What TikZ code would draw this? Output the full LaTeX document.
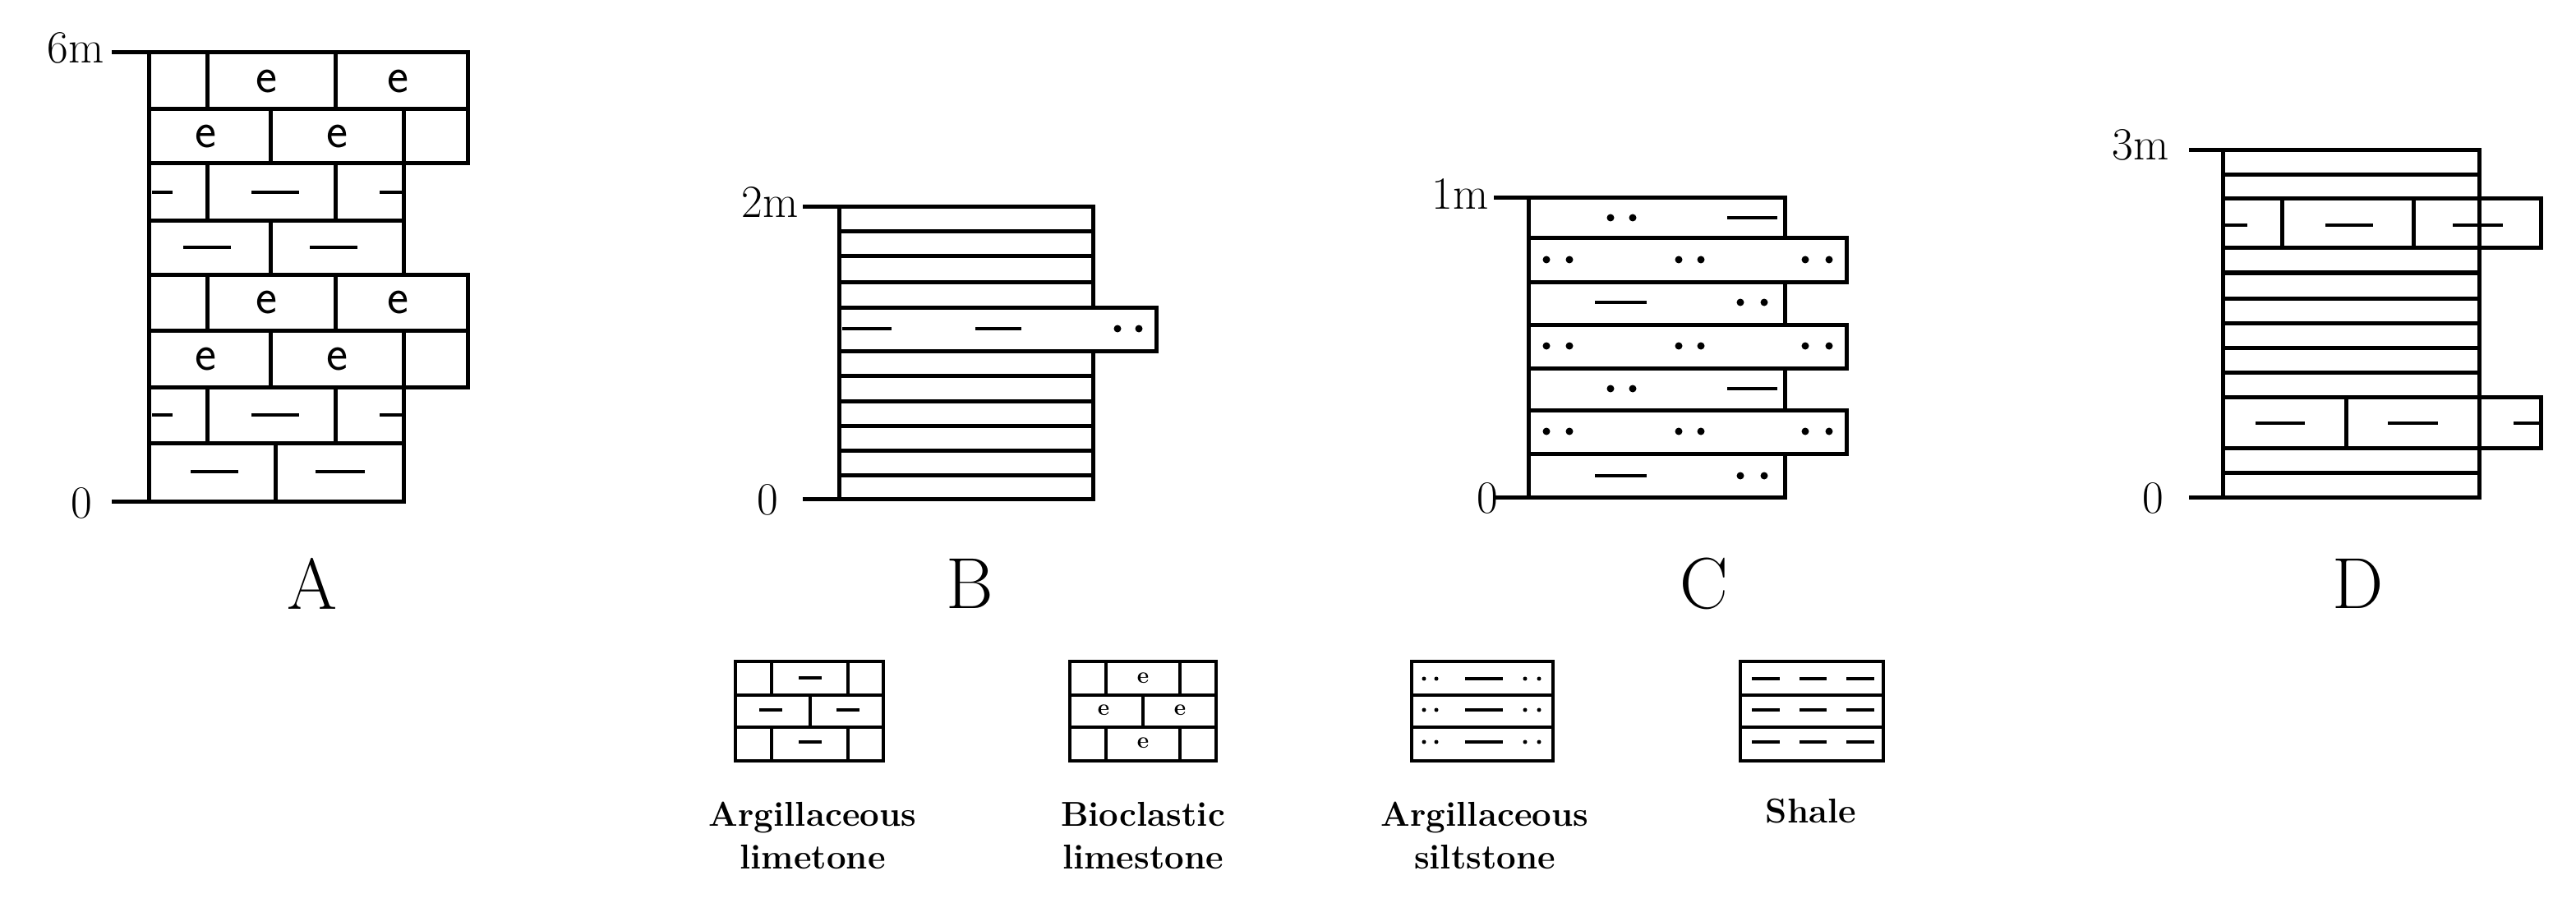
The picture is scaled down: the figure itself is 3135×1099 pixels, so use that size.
\documentclass[tikz,border=0pt]{standalone}
\begin{document}
\begin{tikzpicture}[x=1pt,y=-1pt,
  ln/.style={line width=5pt,line cap=rect},
  dsh/.style={line width=4.5pt},
  lg/.style={line width=4.5pt},
  lbl/.style={font=\fontsize{56}{60}\selectfont,inner sep=0pt},
  colcap/.style={font=\fontsize{88}{90}\selectfont,inner sep=0pt},
  ee/.style={font=\fontsize{62}{62}\selectfont\sffamily,inner sep=0pt},
  leg/.style={font=\fontsize{42}{52}\selectfont\bfseries,align=center,inner sep=0pt}]
\useasboundingbox (0,0) rectangle (3135,1099);
\fill[white] (0,0) rectangle (3135,1099);
\newcommand{\dsz}[2]{\fill (#1,#2) circle (4.5);}
% ---------------- Column A
\draw[ln] (138,64) -- (569,64);
\draw[ln] (138,610) -- (491,610);
\draw[ln] (181,64) -- (181,610);
\foreach \t/\b/\r in {64/133/569,133/199/569,199/269/491,269/334/491,334/402/569,402/471/569,471/539/491,539/610/491}
  \draw[ln] (181,\t) rectangle (\r,\b);
\foreach \t/\b in {64/133,334/402}{\draw[ln] (252,\t)--(252,\b); \draw[ln] (408,\t)--(408,\b);}
\foreach \t/\b in {133/199,402/471}{\draw[ln] (329,\t)--(329,\b); \draw[ln] (491,\t)--(491,\b);}
\foreach \t/\b in {199/269,471/539}{\draw[ln] (252,\t)--(252,\b); \draw[ln] (408,\t)--(408,\b);}
\draw[ln] (329,269)--(329,334);
\draw[ln] (335,539)--(335,610);
\foreach \y in {99,368}{\node[ee] at (324,\y) {e}; \node[ee] at (484,\y) {e};}
\foreach \y in {166,437}{\node[ee] at (250,\y) {e}; \node[ee] at (410,\y) {e};}
\foreach \y in {234,505}{\draw[dsh] (185,\y)--(210,\y); \draw[dsh] (306,\y)--(364,\y); \draw[dsh] (462,\y)--(489,\y);}
\draw[dsh] (223,301)--(281,301); \draw[dsh] (377,301)--(435,301);
\draw[dsh] (232,574)--(290,574); \draw[dsh] (384,574)--(444,574);
\node[lbl,anchor=east] (a6) at (127,58) {6m};
\node[lbl] (a0) at (99,612) {0};
\node[colcap] (A) at (380,710) {A};
% ---------------- Column B
\draw[ln] (979,252) -- (1330,252);
\draw[ln] (979,607) -- (1330,607);
\draw[ln] (1021,252) -- (1021,607);
\draw[ln] (1330,252) -- (1330,607);
\foreach \y in {282,312,343,457,488,518,548,578}\draw[ln] (1021,\y)--(1330,\y);
\draw[ln,fill=white] (1021,374) rectangle (1407,427);
\draw[dsh] (1025,400)--(1085,400); \draw[dsh] (1187,400)--(1243,400);
\dsz{1360}{400}\dsz{1386}{400}
\node[lbl,anchor=east] (b2) at (972,246) {2m};
\node[lbl] (b0) at (934,608) {0};
\node[colcap] (B) at (1180,710) {B};
% ---------------- Column C
\draw[ln] (1820,241) -- (2172,241);
\draw[ln] (1820,605) -- (2172,605);
\draw[ln] (1860,241) -- (1860,605);
\foreach \t/\b/\r in {241/290/2172,290/343/2247,343/395/2172,395/448/2247,448/499/2172,499/552/2247,552/605/2172}
  \draw[ln] (1860,\t) rectangle (\r,\b);
\foreach \y in {265,473}{\dsz{1960}{\y}\dsz{1987}{\y}\draw[dsh] (2102,\y)--(2163,\y);}
\foreach \y in {368,579}{\draw[dsh] (1941,\y)--(2004,\y);\dsz{2118}{\y}\dsz{2147}{\y}}
\foreach \y in {316,421,525}{\dsz{1882}{\y}\dsz{1910}{\y}\dsz{2043}{\y}\dsz{2070}{\y}\dsz{2197}{\y}\dsz{2226}{\y}}
\node[lbl,anchor=east] (c1) at (1812,236) {1m};
\node[lbl] (c0) at (1810,606) {0};
\node[colcap] (C) at (2074,710) {C};
% ---------------- Column D
\draw[ln] (2666,183) -- (3017,183);
\draw[ln] (2666,605) -- (3017,605);
\draw[ln] (2705,183) -- (2705,605);
\draw[ln] (3017,183) -- (3017,605);
\foreach \y in {213,332,363,393,423,453,575}\draw[ln] (2705,\y)--(3017,\y);
\draw[ln] (2705,242) rectangle (3092,302);
\draw[ln] (2777,242)--(2777,302); \draw[ln] (2937,242)--(2937,302);
\draw[dsh] (2708,274)--(2735,274); \draw[dsh] (2830,274)--(2888,274); \draw[dsh] (2985,274)--(3046,274);
\draw[ln] (2705,483) rectangle (3092,545);
\draw[ln] (2855,483)--(2855,545);
\draw[dsh] (2745,515)--(2805,515); \draw[dsh] (2906,515)--(2967,515); \draw[dsh] (3059,515)--(3090,515);
\node[lbl,anchor=east] (d3) at (2640,176) {3m};
\node[lbl] (d0) at (2620,606) {0};
\node[colcap] (D) at (2870,710) {D};
% ---------------- Legend
\draw[lg] (895,805) rectangle (1075,926);
\draw[lg] (895,846)--(1075,846); \draw[lg] (895,885)--(1075,885);
\foreach \x in {939,1032}{\draw[lg] (\x,805)--(\x,846); \draw[lg] (\x,885)--(\x,926);}
\draw[lg] (986,846)--(986,885);
\draw[line width=3.5pt] (972,825)--(1000,825); \draw[line width=3.5pt] (924,864)--(952,864);
\draw[line width=3.5pt] (1018,864)--(1046,864); \draw[line width=3.5pt] (972,903)--(1000,903);
\node[leg] (l1) at (989,1017) {Argillaceous\\limetone};
\draw[lg] (1302,805) rectangle (1480,926);
\draw[lg] (1302,846)--(1480,846); \draw[lg] (1302,885)--(1480,885);
\foreach \x in {1346,1436}{\draw[lg] (\x,805)--(\x,846); \draw[lg] (\x,885)--(\x,926);}
\draw[lg] (1391,846)--(1391,885);
\node[font=\fontsize{28}{28}\selectfont\bfseries,inner sep=0pt] at (1391,825) {e};
\node[font=\fontsize{28}{28}\selectfont\bfseries,inner sep=0pt] at (1391,904) {e};
\node[font=\fontsize{28}{28}\selectfont\bfseries,inner sep=0pt] at (1343,864) {e};
\node[font=\fontsize{28}{28}\selectfont\bfseries,inner sep=0pt] at (1436,864) {e};
\node[leg] (l2) at (1391,1017) {Bioclastic\\limestone};
\draw[lg] (1718,805) rectangle (1890,926);
\draw[lg] (1718,846)--(1890,846); \draw[lg] (1718,885)--(1890,885);
\foreach \y in {826,864,903}{
  \fill (1733,\y) circle (2.5); \fill (1748,\y) circle (2.5);
  \draw[line width=3.5pt] (1783,\y)--(1829,\y);
  \fill (1856,\y) circle (2.5); \fill (1873,\y) circle (2.5);}
\node[leg] (l3) at (1807,1017) {Argillaceous\\siltstone};
\draw[lg] (2118,805) rectangle (2292,926);
\draw[lg] (2118,846)--(2292,846); \draw[lg] (2118,885)--(2292,885);
\foreach \y in {826,864,903}{
  \draw[line width=4.5pt] (2132,\y)--(2166,\y); \draw[line width=4.5pt] (2190,\y)--(2223,\y); \draw[line width=4.5pt] (2247,\y)--(2281,\y);}
\node[leg,anchor=north] (l4) at (2204,972) {Shale};
\end{tikzpicture}
\end{document}
